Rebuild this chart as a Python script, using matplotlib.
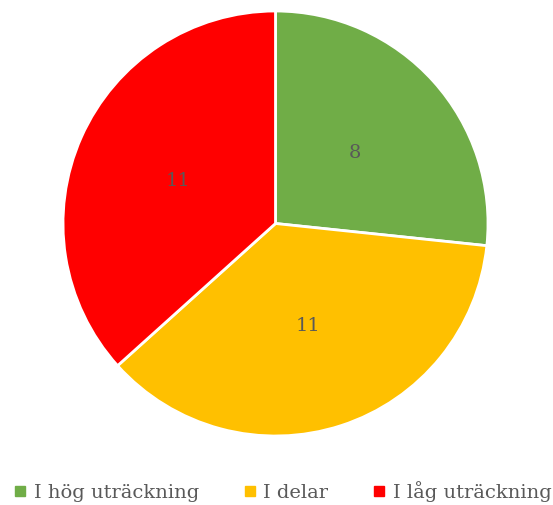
import matplotlib
matplotlib.use("Agg")
import matplotlib.pyplot as plt
from matplotlib.lines import Line2D

categories = ["I hög uträckning", "I delar", "I låg uträckning"]
values = [8, 11, 11]
colors = ["#70AD47", "#FFC000", "#FF0000"]
text_color = "#595959"

plt.rcParams["font.family"] = ["DejaVu Serif"]

fig = plt.figure(figsize=(5.53, 5.06), dpi=100)
ax = fig.add_axes([63 / 553, 69 / 506, 425 / 553, 425 / 506])

wedges, texts, autotexts = ax.pie(
    values,
    colors=colors,
    startangle=90,
    counterclock=False,
    radius=1,
    autopct=lambda p: "{:.0f}".format(p * sum(values) / 100),
    pctdistance=0.5,
    wedgeprops={"edgecolor": "white", "linewidth": 2},
    textprops={"color": text_color, "fontsize": 14},
)
for w in wedges:
    w.set_clip_on(False)
ax.set_xlim(-1, 1)
ax.set_ylim(-1, 1)
ax.set_aspect("equal")
ax.axis("off")

handles = [Line2D([0], [0], marker="s", linestyle="none", markersize=7.5,
                  markerfacecolor=c, markeredgecolor=c) for c in colors]
fig.legend(handles, categories, loc="center", bbox_to_anchor=(0.51, 1 - 492 / 506),
           ncol=3, frameon=False, handletextpad=0.3, columnspacing=2.2,
           handlelength=0.8, prop={"size": 14}, labelcolor=text_color,
           borderpad=0, borderaxespad=0)

fig.savefig("out.png", dpi=100)
